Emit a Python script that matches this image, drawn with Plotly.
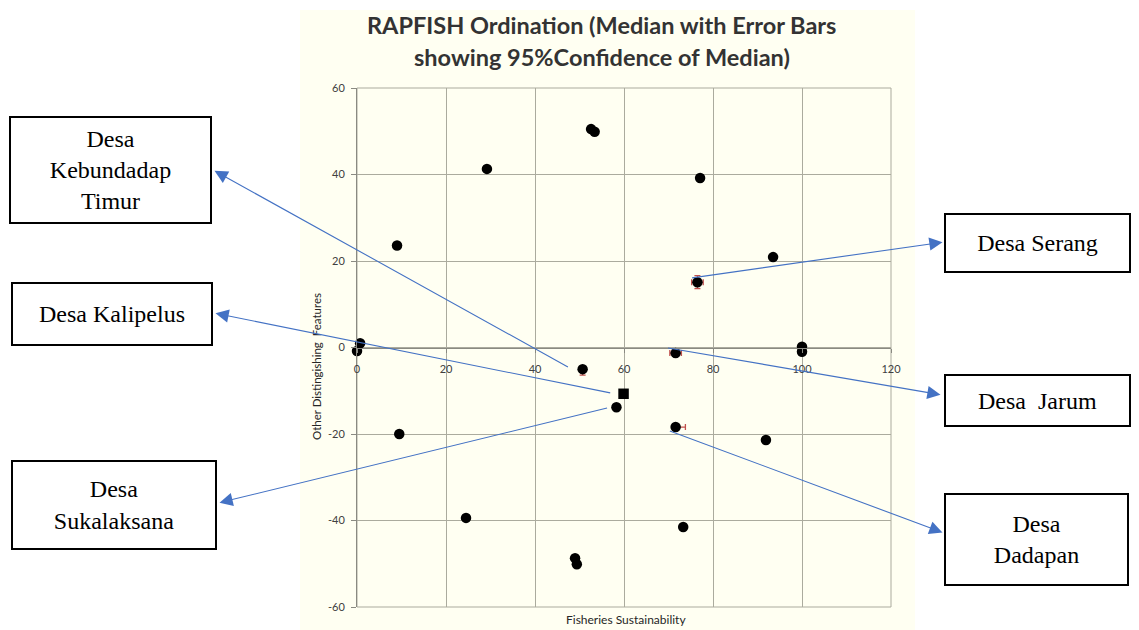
import plotly.graph_objects as go

# Ordination scores of the reference/anchor configurations
anchor_x = [0, 0.7, 9.0, 9.5, 29.2, 24.5, 52.6, 53.4, 77.1, 93.5, 100, 100, 91.9, 73.3, 49.0, 49.4]
anchor_y = [-0.8, 1.0, 23.6, -20.0, 41.3, -39.4, 50.5, 49.9, 39.2, 20.9, 0.2, -1.0, -21.4, -41.5, -48.7, -50.1]

# Villages (median ordination score with 95% confidence of the median)
villages = ["Desa Kebundadap Timur", "Desa Kalipelus", "Desa Sukalaksana",
            "Desa Serang", "Desa  Jarum", "Desa Dadapan"]
village_x = [50.7, 59.9, 58.3, 76.5, 71.6, 71.6]
village_y = [-5.0, -10.7, -13.8, 15.1, -1.3, -18.4]
ci_x_plus = [0.3, 0.0, 0.0, 1.3, 1.3, 2.2]
ci_x_minus = [0.3, 0.0, 0.0, 1.3, 1.3, 0.5]
ci_y_plus = [0.4, 0.0, 0.0, 1.5, 0.3, 0.3]
ci_y_minus = [1.4, 0.0, 0.0, 1.5, 0.3, 0.3]
village_symbol = ["circle", "square", "circle", "circle", "circle", "circle"]

# Callout box texts
box_text = ["Desa<br>Kebundadap<br>Timur", "Desa Kalipelus", "Desa<br>Sukalaksana",
            "Desa Serang", "Desa\u00a0\u00a0Jarum", "Desa<br>Dadapan"]

x_ticks = [0, 20, 40, 60, 80, 100, 120]
y_ticks = [-60, -40, -20, 0, 20, 40, 60]

W, H = 1139, 630
L, R, T, B = 357, 248, 88, 23
PW, PH = W - L - R, H - T - B


def px_to_paper(px, py):
    return (px - L) / PW, (H - B - py) / PH


def px_to_data(px, py):
    return (px - L) / PW * 120, 60 - (py - T) / PH * 120


BG = "#FFFFF2"
GRID = "#ABAB9E"
AXIS = "#8A8A82"
BLUE = "#4472C4"

fig = go.Figure()

fig.add_trace(go.Scatter(
    x=anchor_x, y=anchor_y, mode="markers",
    marker=dict(color="black", size=10.5, symbol="circle"),
    cliponaxis=False, showlegend=False,
))

fig.add_trace(go.Scatter(
    x=village_x, y=village_y, mode="markers", text=villages,
    marker=dict(color="black", size=10.5, symbol=village_symbol),
    error_x=dict(type="data", symmetric=False, array=ci_x_plus, arrayminus=ci_x_minus,
                 color="#C0504D", thickness=1.3, width=3),
    error_y=dict(type="data", symmetric=False, array=ci_y_plus, arrayminus=ci_y_minus,
                 color="#C0504D", thickness=1.3, width=3),
    cliponaxis=False, showlegend=False,
))

annotations = []

# Chart title (two lines)
title_font = dict(family="Lato", size=23.5, color="#333333")
annotations.append(dict(text="<b>RAPFISH Ordination (Median with Error Bars</b>",
                        xref="paper", yref="paper", x=px_to_paper(601, 25)[0], y=px_to_paper(601, 25)[1],
                        xanchor="center", yanchor="middle", showarrow=False, font=title_font))
annotations.append(dict(text="<b>showing 95%Confidence of Median)</b>",
                        xref="paper", yref="paper", x=px_to_paper(602, 57)[0], y=px_to_paper(602, 57)[1],
                        xanchor="center", yanchor="middle", showarrow=False, font=title_font))

# Axis titles
annotations.append(dict(text="Fisheries Sustainability", xref="paper", yref="paper",
                        x=px_to_paper(626, 619)[0], y=px_to_paper(626, 619)[1],
                        xanchor="center", yanchor="middle", showarrow=False,
                        font=dict(family="Lato", size=12, color="#262626")))
annotations.append(dict(text="Other Distingishing\u00a0\u00a0Features", xref="paper", yref="paper",
                        x=px_to_paper(316, 367)[0], y=px_to_paper(316, 367)[1], textangle=-90,
                        xanchor="center", yanchor="middle", showarrow=False,
                        font=dict(family="Lato", size=11.5, color="#262626")))

# Callout boxes: (center px, center py, width, height)
box_geom = [
    (110.5, 170, 203, 108),
    (112, 314, 202, 64),
    (114, 505, 206, 90),
    (1037.5, 243, 187, 60),
    (1037.5, 400.5, 187, 53),
    (1036.5, 539.5, 185, 93),
]
for txt, (cx, cy, bw, bh) in zip(box_text, box_geom):
    px, py = px_to_paper(cx, cy)
    annotations.append(dict(text=txt, xref="paper", yref="paper", x=px, y=py,
                            xanchor="center", yanchor="middle", showarrow=False,
                            width=bw - 4, height=bh - 4, align="center", valign="middle",
                            bgcolor="white", bordercolor="black", borderwidth=2, borderpad=0,
                            font=dict(family="Liberation Serif", size=24, color="black")))

# Arrows from each village point to its box
tail_offset = [(-3.3, 0.5), (-3.0, 0.2), (-2.1, -0.2), (-1.2, 1.0), (-1.7, 1.2), (-1.3, -0.9)]
arrow_head_px = [(213, 170), (214, 313), (218, 503), (944, 242), (942, 395), (944, 533)]
for vx, vy, (ox, oy), (hx, hy) in zip(village_x, village_y, tail_offset, arrow_head_px):
    dx, dy = px_to_data(hx, hy)
    annotations.append(dict(text="", x=vx + ox, y=vy + oy, xref="x", yref="y",
                            ax=dx, ay=dy, axref="x", ayref="y",
                            showarrow=True, arrowside="start", startarrowhead=2,
                            startarrowsize=2.4, arrowwidth=1.1, arrowcolor=BLUE,
                            standoff=0, startstandoff=0))

shapes = [
    # chart area background
    dict(type="rect", xref="paper", yref="paper", layer="below",
         x0=px_to_paper(300, 0)[0], x1=px_to_paper(915, 0)[0],
         y0=px_to_paper(0, 630)[1], y1=px_to_paper(0, 10)[1],
         fillcolor=BG, line=dict(width=0)),
    # plot area frame
    dict(type="rect", xref="paper", yref="paper", layer="below",
         x0=0, x1=1, y0=0, y1=1, line=dict(color=GRID, width=1)),
]

tick_font = dict(family="Lato", size=11, color="#404040")
fig.update_layout(
    width=W, height=H, autosize=False,
    margin=dict(l=L, r=R, t=T, b=B, pad=0),
    paper_bgcolor="white", plot_bgcolor=BG,
    annotations=annotations, shapes=shapes,
    xaxis=dict(range=[0, 120], tickvals=x_ticks, ticktext=[str(v) for v in x_ticks],
               showgrid=True, gridcolor=GRID, gridwidth=1, zeroline=False,
               showline=True, linecolor=AXIS, linewidth=1,
               anchor="free", position=0.5,
               ticks="outside", ticklen=4, tickcolor=AXIS, ticklabelstandoff=7,
               tickfont=tick_font),
    yaxis=dict(range=[-60, 60], tickvals=y_ticks, ticktext=[str(v) for v in y_ticks],
               showgrid=True, gridcolor=GRID, gridwidth=1, zeroline=False,
               showline=True, linecolor=AXIS, linewidth=1,
               ticks="outside", ticklen=5, tickcolor=AXIS, ticklabelstandoff=4,
               tickfont=tick_font),
)

fig.write_html("out.html")
